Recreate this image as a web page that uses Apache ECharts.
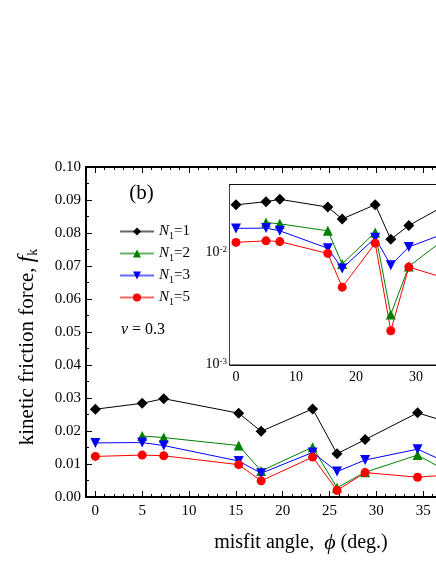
<!DOCTYPE html>
<html><head><meta charset="utf-8">
<script src="https://cdn.jsdelivr.net/npm/echarts@6/dist/echarts.min.js"></script>
<style>html,body{margin:0;padding:0;background:#fff}#c{width:436px;height:564px}</style>
</head><body><div id="c"></div>
<script>
// ---- data ----
const angles = [0, 5, 7.3, 15.3, 17.7, 23.2, 25.8, 28.8, 34.4, 38.2];
const fkN1 = [0.0266, 0.0284, 0.0298, 0.0254, 0.0199, 0.0267, 0.0131, 0.0174, 0.0255, 0.0222];
const fkN2 = [null, 0.0185, 0.0180, 0.0156, 0.0079, 0.0151, 0.0028, 0.0075, 0.0127, 0.0068];
const fkN3 = [0.0164, 0.0165, 0.0156, 0.0109, 0.0072, 0.0135, 0.0077, 0.0112, 0.0145, 0.0096];
const fkN5 = [0.0123, 0.0127, 0.0125, 0.0098, 0.0049, 0.0121, 0.0020, 0.0074, 0.0060, 0.0068];
const seriesNames = ['N1=1', 'N1=2', 'N1=3', 'N1=5'];
const mainXTicks = [0, 5, 10, 15, 20, 25, 30, 35, 40];
const mainXLabels = [0, 5, 10, 15, 20, 25, 30, 35];
const xMinor = [-1,0,1,2,3,4,5,6,7,8,9,10,11,12,13,14,15,16,17,18,19,20,21,22,23,24,25,26,27,28,29,30,31,32,33,34,35,36,37,38,39,40];
const insetXTicks = [0, 10, 20, 30, 40];
const insetXLabels = [0, 10, 20, 30];
const insetYTicks = [0.001, 0.01];
const insetYMinor = [0.002,0.003,0.004,0.005,0.006,0.007,0.008,0.009,0.02,0.03];
const insetYMin = 0.001, insetYMax = 0.04;

const FONT = '"Liberation Serif", "DejaVu Serif", serif';
const colors = ['#000000', '#008000', '#0000ff', '#ff0000'];
const symbols = ['diamond', 'triangle', 'triangle', 'circle'];
const rotates = [0, 0, 180, 0];
const sizes = [11, 10, 10, 9];
const values = [fkN1, fkN2, fkN3, fkN5];

function pairs(arr) {
  const out = [];
  arr.forEach((v, i) => { if (v != null) out.push([angles[i], v]); });
  return out;
}

const axLine = w => ({ show: true, onZero: false, lineStyle: { color: '#000', width: w } });

function xAx(grid, pos, ticks, len, labels, fs, margin, w) {
  return {
    type: 'value', gridIndex: grid, position: pos, offset: 0, min: -1, max: 40,
    axisLine: axLine(w), splitLine: { show: false },
    axisTick: { show: true, inside: true, length: len, customValues: ticks, lineStyle: { color: '#000', width: 1 } },
    axisLabel: labels ? { show: true, customValues: labels, color: '#000', fontFamily: FONT, fontSize: fs, margin: margin } : { show: false }
  };
}

const xAxes = [
  xAx(0, 'bottom', mainXTicks, 6, mainXLabels, 15, 7, 2),
  xAx(0, 'bottom', xMinor, 3, null, 15, 7, 2),
  xAx(0, 'top', mainXTicks, 6, null, 15, 7, 2),
  xAx(0, 'top', xMinor, 3, null, 15, 7, 2),
  xAx(1, 'bottom', insetXTicks, 5, insetXLabels, 14, 6, 1.5),
  xAx(1, 'bottom', xMinor, 3, null, 14, 6, 1.5),
  xAx(1, 'top', insetXTicks, 5, null, 14, 6, 1.5),
  xAx(1, 'top', xMinor, 3, null, 14, 6, 1.5)
];

// tick-only companion axes for the inset log scale (positions in log10 units)
const lg = v => Math.log10(v);
const yAxes = [
  {
    type: 'value', gridIndex: 0, position: 'left', offset: 0, min: 0, max: 0.1, interval: 0.01,
    axisLine: axLine(2), splitLine: { show: false },
    axisTick: { show: true, inside: true, length: 6, lineStyle: { color: '#000', width: 1 } },
    minorTick: { show: true, splitNumber: 2, length: 3, lineStyle: { color: '#000', width: 1 } },
    axisLabel: { color: '#000', fontFamily: FONT, fontSize: 15, margin: 5, formatter: v => v.toFixed(2) }
  },
  {
    type: 'log', logBase: 10, gridIndex: 1, position: 'left', offset: 0, min: insetYMin, max: insetYMax,
    axisLine: axLine(1.5), splitLine: { show: false }, minorTick: { show: false },
    axisTick: { show: false }, axisLabel: { show: false }
  },
  {
    type: 'value', gridIndex: 1, position: 'left', offset: 0, min: lg(insetYMin), max: lg(insetYMax),
    axisLine: { show: false }, splitLine: { show: false }, minorTick: { show: false },
    axisTick: { show: true, inside: true, length: 6, customValues: insetYTicks.map(lg), lineStyle: { color: '#000', width: 1 } },
    axisLabel: {
      show: true, customValues: insetYTicks.map(lg), margin: 3,
      formatter: v => '{b|10}{s|' + Math.round(v) + '}',
      rich: {
        b: { fontFamily: FONT, fontSize: 14, lineHeight: 14, color: '#000' },
        s: { fontFamily: FONT, fontSize: 9, lineHeight: 1, verticalAlign: 'top', color: '#000' }
      }
    }
  },
  {
    type: 'value', gridIndex: 1, position: 'left', offset: 0, min: lg(insetYMin), max: lg(insetYMax),
    axisLine: { show: false }, splitLine: { show: false }, minorTick: { show: false },
    axisTick: { show: true, inside: true, length: 3, customValues: insetYMinor.map(lg), lineStyle: { color: '#000', width: 1 } },
    axisLabel: { show: false }
  }
];

const series = [];
for (let g = 0; g < 2; g++) {
  for (let k = 0; k < 4; k++) {
    series.push({
      name: seriesNames[k], type: 'line', data: pairs(values[k]),
      xAxisIndex: g === 0 ? 0 : 4, yAxisIndex: g === 0 ? 0 : 1,
      symbol: symbols[k], symbolRotate: rotates[k], symbolSize: sizes[k],
      lineStyle: { color: colors[k], width: 1 }, itemStyle: { color: colors[k] },
      animation: false, silent: true
    });
  }
}

const chart = echarts.init(document.getElementById('c'), null, { renderer: 'canvas' });
chart.setOption({
  backgroundColor: '#fff',
  animation: false,
  grid: [
    { left: 86, top: 167, width: 384, height: 330, show: false, containLabel: false, outerBoundsMode: 'none' },
    { left: 230, top: 185, width: 246, height: 179.5, show: true, backgroundColor: '#fff', borderWidth: 0, containLabel: false, outerBoundsMode: 'none', z: 3 }
  ],
  xAxis: xAxes,
  yAxis: yAxes,
  legend: {
    data: seriesNames, orient: 'vertical', left: 114, top: 219,
    itemWidth: 34, itemHeight: 10, itemGap: 4.5, selectedMode: false,
    lineStyle: { opacity: 0.6 },
    formatter: name => '{i|N}{s|1}{t|=' + name.split('=')[1] + '}',
    textStyle: {
      color: '#000', fontFamily: FONT, fontSize: 15,
      rich: {
        i: { fontFamily: FONT, fontSize: 15, fontStyle: 'italic', lineHeight: 20, color: '#000' },
        s: { fontFamily: FONT, fontSize: 10, lineHeight: 1, verticalAlign: 'bottom', color: '#000' },
        t: { fontFamily: FONT, fontSize: 15, lineHeight: 20, color: '#000' }
      }
    }
  },
  graphic: [
    { type: 'text', x: 141.5, y: 193, style: { text: '(b)', font: '21px ' + FONT, fill: '#000', align: 'center', verticalAlign: 'middle', textAlign: 'center', textVerticalAlign: 'middle' } },
    { type: 'text', x: 143, y: 330, style: {
      text: '{v|ν}{t| = 0.3}', align: 'center', verticalAlign: 'middle', textAlign: 'center', textVerticalAlign: 'middle',
      rich: { v: { fontFamily: FONT, fontSize: 16, fontStyle: 'italic', fill: '#000' }, t: { fontFamily: FONT, fontSize: 16, fill: '#000' } } } },
    { type: 'text', x: 27, y: 347, rotation: Math.PI / 2, style: {
      text: '{t|kinetic friction force, }{f|f}{k|k}', align: 'center', verticalAlign: 'middle', textAlign: 'center', textVerticalAlign: 'middle',
      rich: {
        t: { fontFamily: FONT, fontSize: 21, lineHeight: 27, fill: '#000' },
        f: { fontFamily: FONT, fontSize: 23, fontStyle: 'italic', lineHeight: 27, fill: '#000' },
        k: { fontFamily: FONT, fontSize: 14, lineHeight: 1, verticalAlign: 'bottom', fill: '#000' }
      } } },
    { type: 'text', x: 301, y: 543, style: {
      text: '{t|misfit angle,  }{p|ϕ}{t| (deg.)}', align: 'center', verticalAlign: 'middle', textAlign: 'center', textVerticalAlign: 'middle',
      rich: {
        t: { fontFamily: FONT, fontSize: 20, fill: '#000' },
        p: { fontFamily: FONT, fontSize: 22, fontStyle: 'italic', fill: '#000' }
      } } }
  ],
  series: series
});
</script>
</body></html>
